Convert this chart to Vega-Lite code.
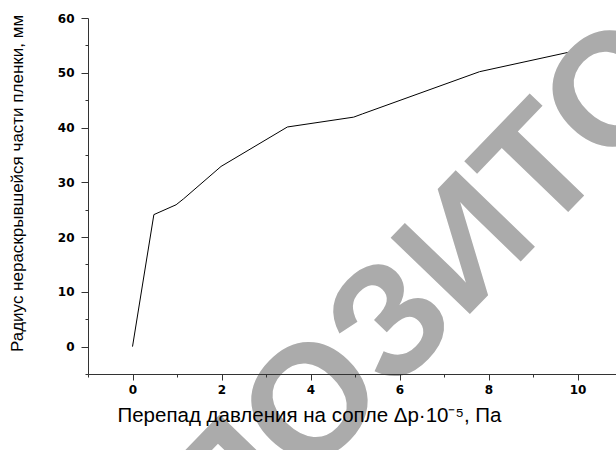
{
  "$schema": "https://vega.github.io/schema/vega-lite/v6.json",
  "width": 528,
  "height": 356,
  "autosize": {"type": "none"},
  "padding": {"left": 88, "top": 18, "right": 0, "bottom": 76},
  "background": "white",
  "config": {"view": {"stroke": null}, "font": "Liberation Sans"},
  "layer": [
    {
      "data": {"values": [
        {"p": 0, "r": 0},
        {"p": 0.48, "r": 24.1},
        {"p": 0.98, "r": 25.9},
        {"p": 1.15, "r": 27.0},
        {"p": 1.99, "r": 32.9},
        {"p": 3.48, "r": 40.1},
        {"p": 4.97, "r": 41.9},
        {"p": 5.17, "r": 42.5},
        {"p": 7.8, "r": 50.2},
        {"p": 10.0, "r": 54.1}
      ]},
      "mark": {"type": "line", "color": "black", "strokeWidth": 1},
      "encoding": {
        "x": {
          "field": "p", "type": "quantitative",
          "scale": {"domain": [-1, 10.865], "nice": false, "zero": false},
          "axis": {
            "values": [-1, 0, 1, 2, 3, 4, 5, 6, 7, 8, 9, 10],
            "tickCount": 30, "format": "d",
            "labelExpr": "datum.value % 2 == 0 ? datum.label : ''",
            "tickSize": {"condition": {"test": "datum.value % 2 == 0", "value": 6}, "value": 3},
            "labelFont": "DejaVu Sans", "labelFontWeight": "bold", "labelFontSize": 12,
            "labelColor": "black", "labelPadding": 4, "zindex": 1,
            "domainColor": "#333", "tickColor": "#333", "grid": false,
            "title": "Перепад давления на сопле Δp·10⁻⁵, Па",
            "titleFont": "Liberation Sans", "titleFontSize": 20.5, "titleFontWeight": "normal",
            "titleColor": "black", "titleX": 221, "titleY": 47, "titleBaseline": "alphabetic"
          }
        },
        "y": {
          "field": "r", "type": "quantitative",
          "scale": {"domain": [-5, 60], "nice": false, "zero": false},
          "axis": {
            "values": [-5, 0, 5, 10, 15, 20, 25, 30, 35, 40, 45, 50, 55, 60],
            "tickCount": 30, "format": "d",
            "labelOverlap": false,
            "labelExpr": "datum.value % 10 == 0 ? datum.label : ''",
            "tickSize": {"condition": {"test": "datum.value % 10 == 0", "value": 7}, "value": 3},
            "labelFont": "DejaVu Sans", "labelFontWeight": "bold", "labelFontSize": 12,
            "labelColor": "black", "labelPadding": 7, "zindex": 1,
            "domainColor": "#333", "tickColor": "#333", "grid": false,
            "title": "Радиус нераскрывшейся части пленки, мм",
            "titleFont": "Liberation Sans", "titleFontSize": 17, "titleFontWeight": "normal",
            "titleColor": "black", "titleAngle": 270, "titleX": -71, "titleY": 165,
            "titleBaseline": "middle", "titleAlign": "center"
          }
        }
      }
    },
    {
      "data": {"values": [{"label": "РЕПОЗИТОРИЙ"}]},
      "mark": {"type": "text", "angle": -46, "fontSize": 160, "fontWeight": "bold", "color": "#ababab",
               "align": "center", "baseline": "middle", "font": "Liberation Sans"},
      "encoding": {
        "x": {"datum": 7.55, "type": "quantitative"},
        "y": {"datum": 18.3, "type": "quantitative"},
        "text": {"field": "label"}
      }
    }
  ]
}
